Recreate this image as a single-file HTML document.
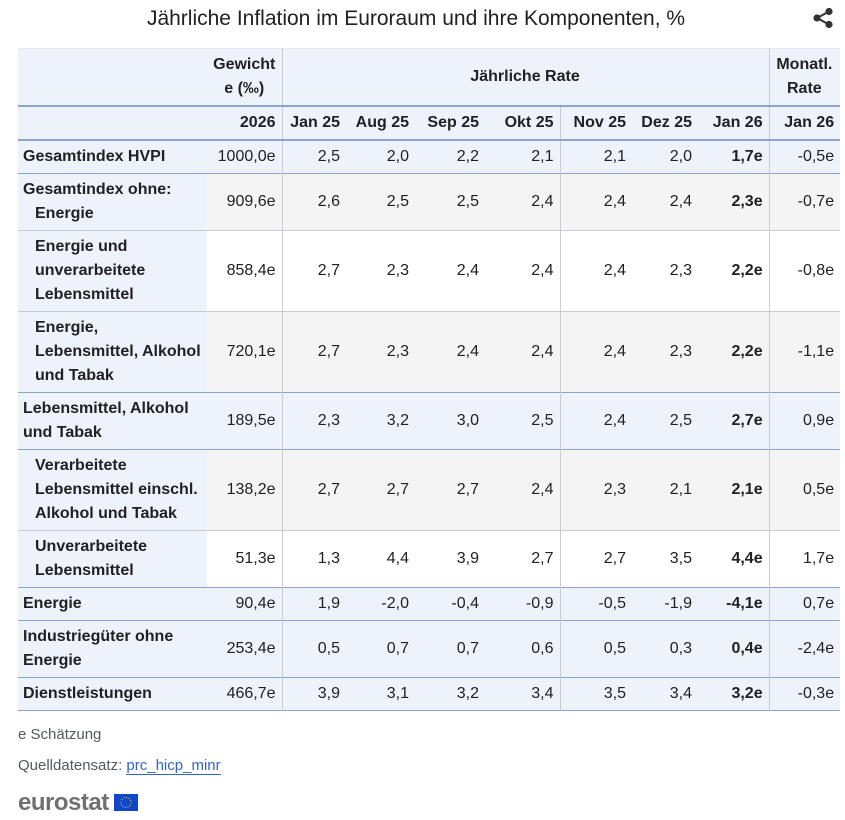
<!DOCTYPE html>
<html><head><meta charset="utf-8"><style>
body{margin:0;background:#fff;width:845px;height:820px;overflow:hidden;font-family:"Liberation Sans",Arial,sans-serif;color:#202122;position:relative}
.title{position:absolute;left:0;width:832px;top:7px;text-align:center;font-size:21px;color:#202122}
.share{position:absolute;left:812px;top:7px}
table{position:absolute;left:18px;top:48px;border-collapse:collapse;table-layout:fixed;width:822px;font-size:16px;line-height:24px}
td,th{padding:0 6px 0 5px;vertical-align:middle;text-align:right;font-weight:normal}
th{font-weight:bold}
.h th{background:#eef2fa}
.top td{background:#eef2fa}
.g td{background:#f3f4f3}
table tr td.lab{text-align:left;background:#eef2fa;font-weight:bold}
.sub .lab{padding-left:17px}
.hang{padding-left:17px !important;text-indent:-12px}
.vl{border-left:1px solid #c8ccd1}
tr{border-bottom:1px solid #c8ccd1}
tr.bb{border-bottom:2px solid #8aa3d0}
tr.bbt{border-bottom:1px solid #8aa3d0}
b{font-weight:bold}
.foot{position:absolute;left:18px;font-size:15px;color:#54595d}
a{color:#3366cc;text-decoration:none;border-bottom:1px solid #3366cc}
</style></head><body>
<div class="title">Jährliche Inflation im Euroraum und ihre Komponenten, %</div>
<svg class="share" width="22" height="22" viewBox="0 0 22 22"><circle cx="17" cy="4.5" r="3.6" fill="#333"/><circle cx="5" cy="11" r="3.6" fill="#333"/><circle cx="17" cy="17.5" r="3.6" fill="#333"/><path d="M17 4.5L5 11L17 17.5" stroke="#333" stroke-width="2" fill="none"/></svg>
<table>
<colgroup><col style="width:189px"><col style="width:75px"><col style="width:64px"><col style="width:69px"><col style="width:70px"><col style="width:75px"><col style="width:72px"><col style="width:66px"><col style="width:71px"><col style="width:71px"></colgroup>
<tr class="h bb" style="height:57px;border-top:1px solid #e6e8ec"><th></th><th style="text-align:center;padding:0 3px">Gewicht<br>e (‰)</th><th class="vl" colspan="7" style="text-align:center">Jährliche Rate</th><th class="vl" style="text-align:center">Monatl.<br>Rate</th></tr>
<tr class="h bb" style="height:34px"><th></th><th>2026</th><th class="vl">Jan 25</th><th>Aug 25</th><th>Sep 25</th><th>Okt 25</th><th class="vl">Nov 25</th><th>Dez 25</th><th>Jan 26</th><th class="vl">Jan 26</th></tr>
<tr class="top bbt" style="height:34px"><td class="lab">Gesamtindex HVPI</td><td>1000,0e</td><td class="vl">2,5</td><td>2,0</td><td>2,2</td><td>2,1</td><td class="vl">2,1</td><td>2,0</td><td><b>1,7e</b></td><td class="vl">-0,5e</td></tr>
<tr class="g" style="height:57px"><td class="lab hang">Gesamtindex ohne: Energie</td><td>909,6e</td><td class="vl">2,6</td><td>2,5</td><td>2,5</td><td>2,4</td><td class="vl">2,4</td><td>2,4</td><td><b>2,3e</b></td><td class="vl">-0,7e</td></tr>
<tr class="sub" style="height:81px"><td class="lab">Energie und unverarbeitete Lebensmittel</td><td>858,4e</td><td class="vl">2,7</td><td>2,3</td><td>2,4</td><td>2,4</td><td class="vl">2,4</td><td>2,3</td><td><b>2,2e</b></td><td class="vl">-0,8e</td></tr>
<tr class="sub g bbt" style="height:81px"><td class="lab">Energie, Lebensmittel, Alkohol und Tabak</td><td>720,1e</td><td class="vl">2,7</td><td>2,3</td><td>2,4</td><td>2,4</td><td class="vl">2,4</td><td>2,3</td><td><b>2,2e</b></td><td class="vl">-1,1e</td></tr>
<tr class="top bbt" style="height:57px"><td class="lab">Lebensmittel, Alkohol und Tabak</td><td>189,5e</td><td class="vl">2,3</td><td>3,2</td><td>3,0</td><td>2,5</td><td class="vl">2,4</td><td>2,5</td><td><b>2,7e</b></td><td class="vl">0,9e</td></tr>
<tr class="sub g" style="height:81px"><td class="lab">Verarbeitete Lebensmittel einschl. Alkohol und Tabak</td><td>138,2e</td><td class="vl">2,7</td><td>2,7</td><td>2,7</td><td>2,4</td><td class="vl">2,3</td><td>2,1</td><td><b>2,1e</b></td><td class="vl">0,5e</td></tr>
<tr class="sub bbt" style="height:57px"><td class="lab">Unverarbeitete Lebensmittel</td><td>51,3e</td><td class="vl">1,3</td><td>4,4</td><td>3,9</td><td>2,7</td><td class="vl">2,7</td><td>3,5</td><td><b>4,4e</b></td><td class="vl">1,7e</td></tr>
<tr class="top bbt" style="height:33px"><td class="lab">Energie</td><td>90,4e</td><td class="vl">1,9</td><td>-2,0</td><td>-0,4</td><td>-0,9</td><td class="vl">-0,5</td><td>-1,9</td><td><b>-4,1e</b></td><td class="vl">0,7e</td></tr>
<tr class="top bbt" style="height:57px"><td class="lab">Industriegüter ohne Energie</td><td>253,4e</td><td class="vl">0,5</td><td>0,7</td><td>0,7</td><td>0,6</td><td class="vl">0,5</td><td>0,3</td><td><b>0,4e</b></td><td class="vl">-2,4e</td></tr>
<tr class="top bbt" style="height:33px"><td class="lab">Dienstleistungen</td><td>466,7e</td><td class="vl">3,9</td><td>3,1</td><td>3,2</td><td>3,4</td><td class="vl">3,5</td><td>3,4</td><td><b>3,2e</b></td><td class="vl">-0,3e</td></tr>
</table>
<div class="foot" style="top:726px">e Schätzung</div>
<div class="foot" style="top:757px">Quelldatensatz: <a>prc_hicp_minr</a></div>
<div style="position:absolute;left:18px;top:789px;font-size:24px;font-weight:bold;color:#707070;letter-spacing:-0.5px">eurostat</div>
<svg style="position:absolute;left:114px;top:794px" width="24" height="17"><rect width="24" height="17" fill="#0e47cb"/><circle cx="12" cy="8.5" r="5" fill="none" stroke="#ffdd00" stroke-width="1" stroke-dasharray="1 1.6"/></svg>
</body></html>
